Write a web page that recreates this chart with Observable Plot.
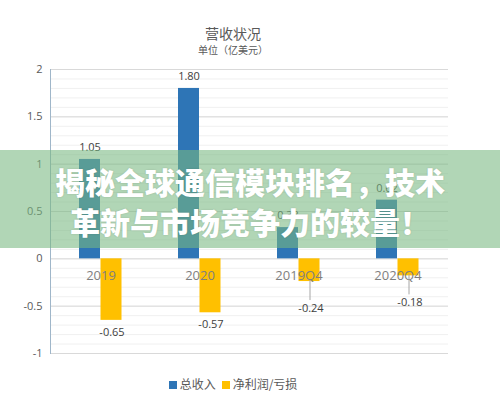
<!DOCTYPE html>
<html>
<head>
<meta charset="utf-8">
<script src="https://cdn.jsdelivr.net/npm/d3@7"></script>
<script src="https://cdn.jsdelivr.net/npm/@observablehq/plot@0.6"></script>
<style>
  html, body { margin: 0; padding: 0; background: #fff; }
  #wrap { position: relative; width: 500px; height: 398px; overflow: hidden; background: #fff;
          font-family: "Noto Sans CJK SC", "Open Sans", sans-serif; color: #595959; }
  #title { position: absolute; left: 0; top: 23px; width: 466px; text-align: center; font-size: 14px; line-height: 20px; }
  #subtitle { position: absolute; left: 0; top: 43px; width: 466px; text-align: center; font-size: 10px; line-height: 14px; }
  #chart { position: absolute; left: 0; top: 55px; }
  #legend { position: absolute; left: 0; top: 376px; width: 466px; text-align: center; font-size: 12px; line-height: 16px; }
  #legend .sw { display: inline-block; width: 8px; height: 8px; margin: 0 3px 0 0; vertical-align: 0px; }
  #legend .item { margin: 0 3px; }
  #banner { position: absolute; left: 0; top: 150px; width: 500px; height: 98px; background: rgba(120,185,130,0.58);
            color: #fff; font-weight: 900; font-size: 30px; line-height: 40px; text-align: center;
            box-sizing: border-box; padding-top: 11px; text-shadow: 0 0 2px rgba(0,0,0,0.15); }
</style>
</head>
<body>
<div id="wrap">
  <div id="title"></div>
  <div id="subtitle"></div>
  <div id="chart"></div>
  <div id="legend"></div>
  <div id="banner"></div>
</div>
<script>
const titleText = "营收状况";
const subtitleText = "单位（亿美元）";
const bannerLines = ["揭秘全球通信模块排名，技术", "革新与市场竞争力的较量！"];
const categories = ["2019", "2020", "2019Q4", "2020Q4"];
const seriesNames = ["总收入", "净利润/亏损"];
const seriesColors = ["#2e75b6", "#ffc000"];
const revenue = [1.05, 1.80, 0.33, 0.62];
const netProfit = [-0.65, -0.57, -0.24, -0.18];
const leaderCats = ["2019Q4", "2020Q4"];
const yTicks = [-1, -0.5, 0, 0.5, 1, 1.5, 2];
const yMinor = d3.range(-10, 21).map(i => i / 10);

document.getElementById("title").textContent = titleText;
document.getElementById("subtitle").textContent = subtitleText;
document.getElementById("banner").innerHTML = bannerLines.map(l => `<div>${l}</div>`).join("");
document.getElementById("legend").innerHTML = seriesNames.map((n, i) =>
  `<span class="item"><span class="sw" style="background:${seriesColors[i]}"></span>${n}</span>`).join("");

const rev = categories.map((c, i) => ({cat: c, v: revenue[i]}));
const net = categories.map((c, i) => ({cat: c, v: netProfit[i], leader: leaderCats.includes(c)}));
const fmt = v => v.toFixed(2);

const chart = Plot.plot({
  width: 500,
  height: 320,
  marginLeft: 50,
  marginRight: 52,
  marginTop: 14,
  marginBottom: 22,
  style: {fontFamily: "'Open Sans', 'Noto Sans CJK SC', sans-serif", background: "transparent"},
  x: {domain: categories, padding: 0, axis: null},
  y: {domain: [-1, 2], axis: null},
  marks: [
    Plot.ruleY(yMinor, {stroke: "#f0f0f0", strokeWidth: 1}),
    Plot.ruleY(yTicks, {stroke: "#d9d9d9", strokeWidth: 1}),
    Plot.axisY({ticks: yTicks, tickSize: 0, tickPadding: 8, tickFormat: d => String(d), fontSize: 11, fill: "#595959", label: null}),
    Plot.frame({anchor: "left", stroke: "#9fb6c9"}),
    Plot.barY(rev, {x: "cat", y: "v", fill: seriesColors[0], insetLeft: 28, insetRight: 50}),
    Plot.barY(net, {x: "cat", y: "v", fill: seriesColors[1], insetLeft: 49.5, insetRight: 28.5}),
    Plot.text(categories, {x: d => d, y: () => 0, dy: 17, text: d => d, fill: "#7f7f7f", fontSize: 13}),
    Plot.text(rev, {x: "cat", y: "v", dx: -11, dy: -12, text: d => fmt(d.v), fill: "#404040", fontSize: 11}),
    Plot.text(net.filter(d => !d.leader), {x: "cat", y: "v", dx: 11, dy: 12, text: d => fmt(d.v), fill: "#404040", fontSize: 11}),
    Plot.ruleX(net.filter(d => d.leader), {x: "cat", y1: "v", y2: "v", dx: 11, insetTop: -1, insetBottom: -19, stroke: "#a6a6a6", strokeWidth: 1}),
    Plot.text(net.filter(d => d.leader), {x: "cat", y: "v", dx: 12, dy: 27, text: d => fmt(d.v), fill: "#404040", fontSize: 11})
  ]
});
document.getElementById("chart").appendChild(chart);
</script>
</body>
</html>
